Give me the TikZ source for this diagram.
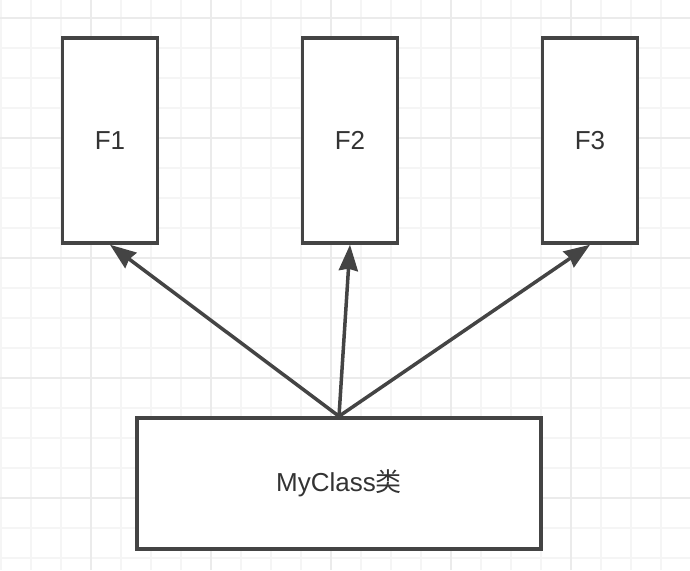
\documentclass[tikz,border=0pt]{standalone}
\usepackage{fontspec}
\setmainfont{Liberation Sans}
\newfontfamily\cjk{Noto Sans CJK SC}
\usepackage{xcolor}
\definecolor{gridminor}{RGB}{245,245,245}
\definecolor{gridmajor}{RGB}{235,235,235}
\definecolor{linegray}{RGB}{68,68,68}
\definecolor{textgray}{RGB}{51,51,51}
\usetikzlibrary{arrows.meta,positioning}

\begin{document}
\begin{tikzpicture}[x=1pt,y=-1pt,
  box/.style={draw=linegray,line width=3.5pt,fill=white,minimum width=95pt,minimum height=205pt,
    font=\fontsize{26}{30}\selectfont,text=textgray,inner sep=0pt},
  arr/.style={-{Stealth[length=26pt,width=19pt,inset=2pt]},line width=3.5pt,linegray}]
  \useasboundingbox (0,0) rectangle (690,570);
  \fill[white] (0,0) rectangle (690,570);
  % Grid
  \foreach \x in {1,31,...,691} \draw[gridminor,line width=1.5pt] (\x,0) -- (\x,570);
  \foreach \y in {18,48,...,570} \draw[gridminor,line width=1.5pt] (0,\y) -- (690,\y);
  \foreach \x in {91,211,...,691} \draw[gridmajor,line width=1.5pt] (\x,0) -- (\x,570);
  \foreach \y in {18,138,...,570} \draw[gridmajor,line width=1.5pt] (0,\y) -- (690,\y);
  % Parent boxes
  \node[box] (f1) at (110,140.5) {F1};
  \node[box] (f2) at (350,140.5) {F2};
  \node[box] (f3) at (590,140.5) {F3};
  % Class box
  \node[box,minimum width=404pt,minimum height=131pt] (cls) at (339,483.5) {MyClass{\cjk 类}};
  % Arrows
  \draw[arr] (cls.north) -- (f1.south);
  \draw[arr] (cls.north) -- (f2.south);
  \draw[arr] (cls.north) -- (f3.south);
\end{tikzpicture}
\end{document}
